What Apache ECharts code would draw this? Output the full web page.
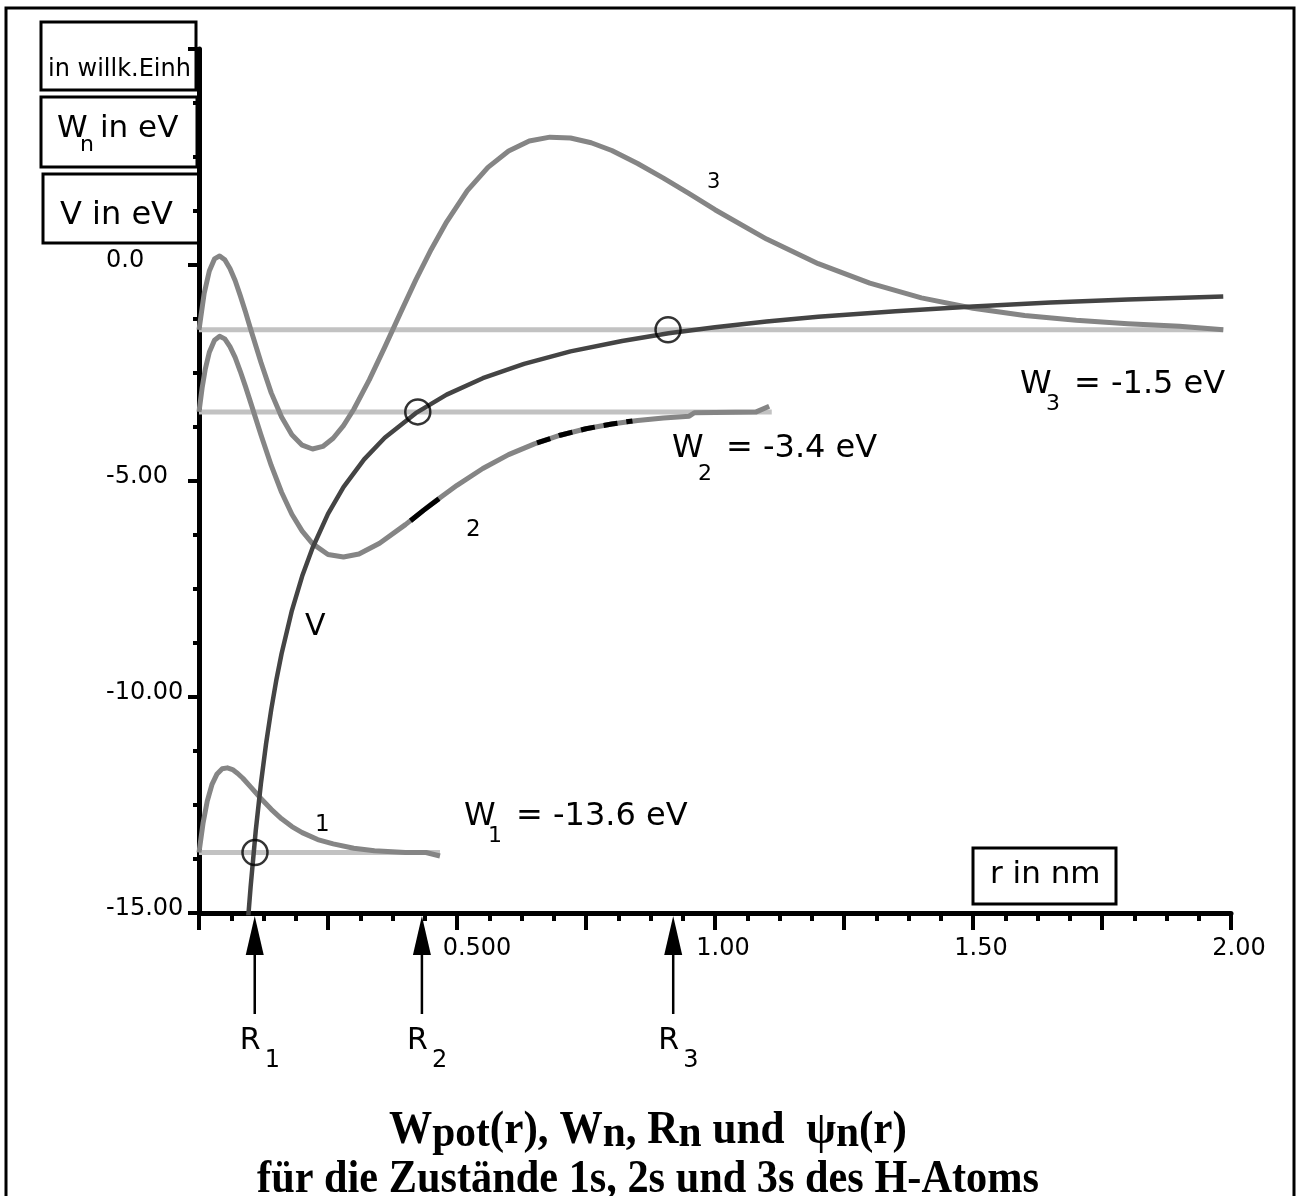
<!DOCTYPE html>
<html><head><meta charset="utf-8">
<script src="https://cdn.jsdelivr.net/npm/echarts@6/dist/echarts.min.js"></script>
<style>html,body{margin:0;padding:0;background:#fff}#c{width:1297px;height:1196px}</style>
</head><body><div id="c"></div>
<script>
// ---------- data ----------
// potential energy V(r) in eV
const rV = [0.094, 0.10, 0.11, 0.12, 0.13, 0.14, 0.15, 0.16, 0.18, 0.20, 0.22, 0.25, 0.28, 0.32, 0.36, 0.42, 0.48, 0.55, 0.63, 0.72, 0.82, 0.91, 1.0, 1.1, 1.2, 1.35, 1.5, 1.65, 1.8, 1.985];
const vV = [-15.3, -14.4, -13.09, -12.0, -11.08, -10.29, -9.6, -9.0, -8.0, -7.2, -6.55, -5.76, -5.14, -4.5, -4.0, -3.43, -3.0, -2.62, -2.29, -2.0, -1.76, -1.58, -1.44, -1.31, -1.2, -1.07, -0.96, -0.87, -0.8, -0.73];

// wave function curves (drawn on top of their energy level)
const rPsi1 = [0, 0.008, 0.016, 0.025, 0.035, 0.045, 0.055, 0.065, 0.075, 0.085, 0.10, 0.12, 0.14, 0.16, 0.18, 0.20, 0.23, 0.26, 0.30, 0.34, 0.40, 0.44, 0.467];
const psi1  = [-13.6, -12.91, -12.41, -12.03, -11.78, -11.66, -11.64, -11.68, -11.77, -11.88, -12.08, -12.35, -12.6, -12.82, -13.0, -13.14, -13.3, -13.4, -13.5, -13.56, -13.6, -13.6, -13.68];

const rPsi2 = [0, 0.006, 0.012, 0.02, 0.03, 0.04, 0.05, 0.06, 0.07, 0.08, 0.09, 0.10, 0.12, 0.14, 0.16, 0.18, 0.20, 0.22, 0.25, 0.28, 0.31, 0.35, 0.40, 0.45, 0.50, 0.55, 0.60, 0.65, 0.70, 0.75, 0.80, 0.85, 0.90, 0.95, 0.96, 1.08, 1.105];
const psi2  = [-3.4, -2.85, -2.42, -2.02, -1.74, -1.65, -1.71, -1.89, -2.14, -2.46, -2.81, -3.18, -3.93, -4.64, -5.26, -5.77, -6.16, -6.45, -6.70, -6.76, -6.69, -6.44, -6.01, -5.54, -5.10, -4.71, -4.39, -4.14, -3.94, -3.79, -3.68, -3.60, -3.54, -3.50, -3.42, -3.40, -3.27];
// dark pieces drawn over curve 2
const rPsi2DarkA = [0.41, 0.435, 0.465];
const psi2DarkA  = [-5.92, -5.68, -5.41];
const rPsi2DarkB = [0.655, 0.70, 0.75, 0.80, 0.84];
const psi2DarkB  = [-4.12, -3.94, -3.79, -3.68, -3.61];

const rPsi3 = [0, 0.01, 0.02, 0.03, 0.04, 0.05, 0.06, 0.07, 0.08, 0.09, 0.10, 0.12, 0.14, 0.16, 0.18, 0.20, 0.22, 0.24, 0.26, 0.28, 0.30, 0.33, 0.36, 0.39, 0.42, 0.45, 0.48, 0.52, 0.56, 0.60, 0.64, 0.68, 0.72, 0.76, 0.80, 0.85, 0.90, 0.95, 1.00, 1.10, 1.20, 1.30, 1.40, 1.50, 1.60, 1.70, 1.80, 1.90, 1.985];
const psi3  = [-1.5, -0.66, -0.14, 0.14, 0.21, 0.12, -0.08, -0.36, -0.71, -1.08, -1.48, -2.25, -2.96, -3.52, -3.93, -4.17, -4.26, -4.20, -4.01, -3.72, -3.34, -2.66, -1.90, -1.12, -0.35, 0.36, 1.00, 1.72, 2.26, 2.64, 2.87, 2.96, 2.94, 2.83, 2.65, 2.35, 2.01, 1.65, 1.28, 0.60, 0.03, -0.42, -0.76, -1.00, -1.17, -1.28, -1.36, -1.42, -1.50];

// energy levels W_n and where their lines end
const levelE   = [-13.6, -3.4, -1.5];
const levelEnd = [0.467, 1.11, 1.985];
// circles where V crosses W_n
const circleR = [0.1085, 0.424, 0.909];
// classical radii R_n (arrows)
const radiiR = [0.108, 0.432, 0.919];

// tick labels
const xTickValues = [0.5, 1.0, 1.5, 2.0];
const xTickTexts  = ['0.500', '1.00', '1.50', '2.00'];
const yTickValues = [0, -5, -10, -15];
const yTickTexts  = ['0.0', '-5.00', '-10.00', '-15.00'];

// ---------- chart ----------
const FONT = 'DejaVu Sans';
const zip = (a, b) => a.map((v, i) => [v, b[i]]);
const chart = echarts.init(document.getElementById('c'), null, {renderer: 'canvas'});

const lineSeries = (data, color, width, z, extra) => Object.assign({
  type: 'line', data: data, showSymbol: false, symbol: 'none', silent: true,
  lineStyle: {color: color, width: width, cap: 'butt', join: 'round'},
  emphasis: {disabled: true}, z: z, animation: false
}, extra || {});

const series = [];
levelE.forEach((e, i) => series.push(lineSeries([[0, e], [levelEnd[i], e]], '#c2c2c2', 5, 2)));
series.push(lineSeries(zip(rPsi1, psi1), '#858585', 5, 3));
series.push(lineSeries(zip(rPsi2, psi2), '#858585', 5, 3));
series.push(lineSeries(zip(rPsi3, psi3), '#858585', 5, 3));
series.push(lineSeries(zip(rPsi2DarkA, psi2DarkA), '#000', 5, 4));
series.push(lineSeries(zip(rPsi2DarkB, psi2DarkB), '#000', 5, 4, {lineStyle: {color: '#000', width: 5, type: [14, 9]}}));
series.push(lineSeries(zip(rV, vV), '#444444', 4.5, 5));
series.push({
  type: 'scatter', data: zip(circleR, levelE), symbol: 'circle', symbolSize: 25, silent: true, z: 6,
  itemStyle: {color: 'rgba(0,0,0,0)', borderColor: '#000', borderWidth: 2.5}, emphasis: {disabled: true}
});
series.push({
  type: 'custom', data: radiiR.map(r => [r, -15]), silent: true, z: 7, clip: false,
  renderItem: function (params, api) {
    const p = api.coord([api.value(0), api.value(1)]);
    const x = p[0], y = p[1];
    return {type: 'group', children: [
      {type: 'polygon', shape: {points: [[x, y + 3], [x - 9, y + 42], [x + 9, y + 42]]}, style: {fill: '#000'}},
      {type: 'line', shape: {x1: x, y1: y + 40, x2: x, y2: y + 101}, style: {stroke: '#000', lineWidth: 2.5}},
      {type: 'text', x: x - 15, y: y + 113, style: {text: 'R', fontSize: 30, fontFamily: FONT, fill: '#000', lineHeight: 30, verticalAlign: 'top', textVerticalAlign: 'top'}},
      {type: 'text', x: x + 10, y: y + 136, style: {text: String(params.dataIndex + 1), fontSize: 24, fontFamily: FONT, fill: '#000', lineHeight: 24, verticalAlign: 'top', textVerticalAlign: 'top'}}
    ]};
  }
});

function t(x, y, text, size, extra) {
  return {type: 'text', x: x, y: y, z: 20, silent: true,
    style: Object.assign({text: text, fontSize: size, fontFamily: FONT, fill: '#000', lineHeight: size,
      align: 'left', textAlign: 'left', verticalAlign: 'top', textVerticalAlign: 'top'}, extra || {})};
}
function box(x, y, w, h) {
  return {type: 'rect', z: 19, silent: true, shape: {x: x, y: y, width: w, height: h},
    style: {fill: 'none', stroke: '#000', lineWidth: 3}};
}

const graphic = [
  {type: 'rect', z: 1, silent: true, shape: {x: 6, y: 8, width: 1288, height: 1200}, style: {fill: 'none', stroke: '#000', lineWidth: 3}},
  box(41, 22, 155, 68), t(48, 58, 'in willk.Einh', 24),
  box(41, 97, 156, 70), t(57, 113, 'W', 31), t(80, 134.5, 'n', 22), t(100, 113, 'in eV', 31),
  box(43, 174, 156, 69), t(60, 200, 'V in eV', 32),
  box(973, 848, 143, 56), t(990, 859, 'r in nm', 31),
  t(464, 801, 'W', 32), t(488, 825.5, '1', 22), t(516, 801, '= -13.6 eV', 32),
  t(672, 433, 'W', 32), t(698, 463.5, '2', 22), t(726, 433, '= -3.4 eV', 32),
  t(1020, 369, 'W', 32), t(1046, 393.5, '3', 22), t(1074, 369, '= -1.5 eV', 32),
  t(707, 171.6, '3', 21), t(466, 518.4, '2', 23), t(315, 813.4, '1', 23), t(305, 612, 'V', 30),
  {type: 'text', x: 648, y: 1105, scaleX: 0.92, z: 20, silent: true, style: {
    text: '{m|W}{s|pot}{m|(r), W}{s|n}{m|, R}{s|n}{m| und  ψ}{s|n}{m|(r)}',
    align: 'center', textAlign: 'center', verticalAlign: 'top', textVerticalAlign: 'top', fill: '#000',
    rich: {
      m: {fontSize: 47, fontFamily: 'Liberation Serif', fontWeight: 'bold', lineHeight: 52, fill: '#000'},
      s: {fontSize: 45, fontFamily: 'Liberation Serif', fontWeight: 'bold', lineHeight: 40, verticalAlign: 'bottom', fill: '#000'}
    }}},
  {type: 'text', x: 648, y: 1157, scaleX: 0.92, z: 20, silent: true, style: {
    text: 'für die Zustände 1s, 2s und 3s des H-Atoms', fontSize: 46, fontFamily: 'Liberation Serif', fontWeight: 'bold',
    lineHeight: 46, fill: '#000', align: 'center', textAlign: 'center', verticalAlign: 'top', textVerticalAlign: 'top'}}
];

const option = {
  animation: false,
  backgroundColor: '#fff',
  grid: {left: 199, right: 66, top: 49, bottom: 283, containLabel: false, outerBoundsMode: 'none'},
  xAxis: {
    type: 'value', min: 0, max: 2, interval: 0.25,
    axisLine: {show: true, onZero: false, lineStyle: {color: '#000', width: 5}},
    axisTick: {show: true, length: 17, lineStyle: {color: '#000', width: 4}},
    minorTick: {show: true, splitNumber: 4, length: 8, lineStyle: {color: '#000', width: 4}},
    splitLine: {show: false}, minorSplitLine: {show: false},
    axisLabel: {
      show: true, margin: 24, color: '#000', fontSize: 24, fontFamily: FONT, showMinLabel: true, showMaxLabel: true,
      formatter: function (v) {
        const i = xTickValues.findIndex(x => Math.abs(x - v) < 1e-6);
        if (i < 0) return '';
        return (i === 0 ? '{a|' : '{b|') + xTickTexts[i] + '}';
      },
      rich: {
        a: {fontSize: 24, fontFamily: FONT, color: '#000', padding: [0, 0, 0, 40]},
        b: {fontSize: 24, fontFamily: FONT, color: '#000', padding: [0, 0, 0, 16]}
      }
    }
  },
  yAxis: {
    type: 'value', min: -15, max: 5, interval: 5,
    axisLine: {show: true, onZero: false, lineStyle: {color: '#000', width: 5}},
    axisTick: {show: true, length: 11, lineStyle: {color: '#000', width: 4}},
    minorTick: {show: true, splitNumber: 4, length: 6, lineStyle: {color: '#000', width: 4}},
    splitLine: {show: false}, minorSplitLine: {show: false},
    axisLabel: {
      show: true, align: 'left', verticalAlign: 'bottom', lineHeight: 9, margin: 93, color: '#000', fontSize: 24, fontFamily: FONT,
      showMinLabel: true, showMaxLabel: true,
      formatter: function (v) {
        const i = yTickValues.findIndex(y => Math.abs(y - v) < 1e-6);
        return i < 0 ? '' : yTickTexts[i];
      }
    }
  },
  series: series,
  graphic: graphic
};
chart.setOption(option);
</script></body></html>
